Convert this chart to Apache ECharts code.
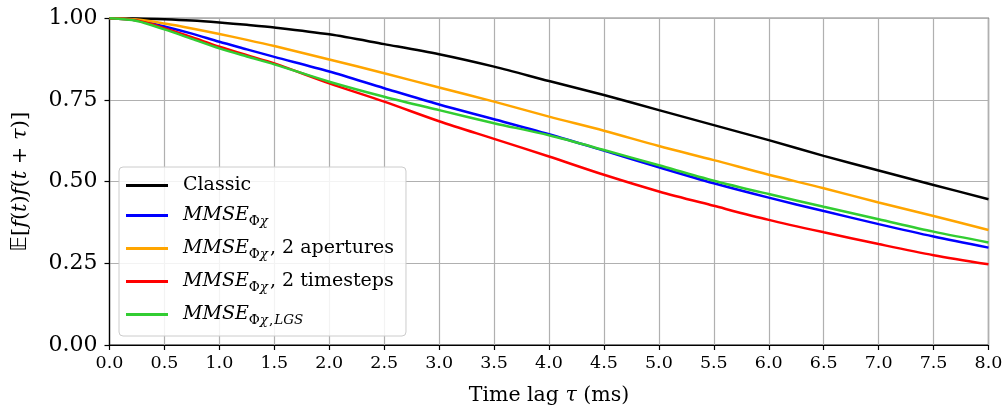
<!DOCTYPE html>
<html>
<head>
<meta charset="utf-8">
<script src="https://cdn.jsdelivr.net/npm/echarts@6/dist/echarts.min.js"></script>
<style>
html,body{margin:0;padding:0;background:#fff;}
#chart{width:1005px;height:408px;}
</style>
</head>
<body>
<div id="chart"></div>
<script>
var tau = [0, 0.25, 0.5, 0.75, 1.0, 1.25, 1.5, 2.0, 2.5, 3.0, 3.5, 4.0, 4.5, 5.0, 5.5, 6.0, 6.5, 7.0, 7.5, 8.0];
var classic   = [1.000, 0.9995, 0.997, 0.993, 0.987, 0.980, 0.972, 0.951, 0.921, 0.890, 0.852, 0.808, 0.765, 0.719, 0.673, 0.627, 0.579, 0.534, 0.490, 0.446];
var mmse      = [1.000, 0.994, 0.975, 0.953, 0.928, 0.905, 0.882, 0.837, 0.786, 0.736, 0.691, 0.645, 0.595, 0.544, 0.495, 0.451, 0.410, 0.370, 0.332, 0.298];
var apertures = [1.000, 0.996, 0.984, 0.969, 0.952, 0.934, 0.915, 0.874, 0.832, 0.788, 0.745, 0.699, 0.656, 0.609, 0.566, 0.521, 0.480, 0.436, 0.395, 0.352];
var timesteps = [1.000, 0.993, 0.970, 0.942, 0.913, 0.887, 0.862, 0.801, 0.745, 0.685, 0.631, 0.577, 0.521, 0.470, 0.426, 0.383, 0.345, 0.309, 0.275, 0.247];
var lgs       = [1.000, 0.992, 0.966, 0.937, 0.908, 0.883, 0.859, 0.806, 0.760, 0.719, 0.679, 0.642, 0.597, 0.550, 0.503, 0.462, 0.423, 0.385, 0.347, 0.314];
var seriesNames = ['Classic', 'MMSE', 'MMSE_ap', 'MMSE_ts', 'MMSE_lgs'];
var seriesColors = ['#000000', '#0000ff', '#ffa500', '#ff0000', '#32cd32'];
var seriesData = [classic, mmse, apertures, timesteps, lgs];
var legendLabels = {
  'Classic': '{c|Classic}',
  'MMSE': '{m|MMSE}{s|Φ}{si|χ}',
  'MMSE_ap': '{m|MMSE}{s|Φ}{si|χ}{k|,}{r|2 apertures}',
  'MMSE_ts': '{m|MMSE}{s|Φ}{si|χ}{k|,}{r|2 timesteps}',
  'MMSE_lgs': '{m|MMSE}{s|Φ}{si|χ}{sk|,}{si|LGS}'
};

var serif = '"DejaVu Serif", serif';
function pairs(ys) { return tau.map(function (x, i) { return [x, ys[i]]; }); }

var series = seriesNames.map(function (n, k) {
  return {
    name: n, type: 'line', data: pairs(seriesData[k]),
    smooth: 0.3, showSymbol: false, symbol: 'none',
    lineStyle: { color: seriesColors[k], width: 2.5 },
    itemStyle: { color: seriesColors[k] },
    z: 3 + k
  };
});

var chart = echarts.init(document.getElementById('chart'), null, { renderer: 'canvas' });
chart.setOption({
  animation: false,
  backgroundColor: '#fff',
  grid: { left: 109.5, right: 16.5, top: 18.3, bottom: 63, show: true, borderColor: '#000', borderWidth: 1.2, backgroundColor: 'transparent', containLabel: false, outerBoundsMode: 'none' },
  xAxis: {
    type: 'value', min: 0, max: 8, interval: 0.5,
    name: '{r|Time lag }{i|τ}{r| (ms)}', nameLocation: 'middle', nameGap: 40,
    nameTextStyle: { rich: {
      r: { fontFamily: serif, fontSize: 20.5, color: '#000' },
      i: { fontFamily: serif, fontStyle: 'italic', fontSize: 20.5, color: '#000' }
    } },
    axisLine: { show: true, lineStyle: { color: '#000', width: 1.2 } },
    axisTick: { show: true, inside: false, length: 5, lineStyle: { color: '#000', width: 1.2 } },
    axisLabel: { fontFamily: serif, fontSize: 17.5, color: '#000', margin: 9, formatter: function (v) { return v.toFixed(1); } },
    splitLine: { show: true, lineStyle: { color: '#b0b0b0', width: 1.2 } }
  },
  yAxis: {
    type: 'value', min: 0, max: 1, interval: 0.25,
    name: '{e|𝔼}{u|[}{i|f}{u|(}{i|t}{u|)}{i|f}{u|(}{i|t}{u| + }{i|τ}{u|)]}',
    nameLocation: 'middle', nameGap: 78, nameRotate: 90,
    nameTextStyle: { rich: {
      e: { fontFamily: '"DejaVu Sans", sans-serif', fontSize: 21, color: '#000' },
      u: { fontFamily: serif, fontSize: 21, color: '#000' },
      i: { fontFamily: serif, fontStyle: 'italic', fontSize: 21, color: '#000' }
    } },
    axisLine: { show: true, lineStyle: { color: '#000', width: 1.2 } },
    axisTick: { show: true, inside: false, length: 5, lineStyle: { color: '#000', width: 1.2 } },
    axisLabel: { fontFamily: serif, fontSize: 22, color: '#000', margin: 12, formatter: function (v) { return v.toFixed(2); } },
    splitLine: { show: true, lineStyle: { color: '#b0b0b0', width: 1.2 } }
  },
  legend: {
    orient: 'vertical', left: 119, top: 167,
    data: seriesNames,
    icon: 'rect', itemWidth: 42, itemHeight: 3, itemGap: 10.5,
    padding: [9, 12, 9, 7],
    backgroundColor: 'rgba(255,255,255,0.85)', borderColor: '#cccccc', borderWidth: 1, borderRadius: 4,
    formatter: function (n) { return legendLabels[n]; },
    textStyle: {
      padding: [0, 0, 0, 10],
      rich: {
        c: { fontFamily: serif, fontSize: 19, color: '#000', lineHeight: 15 },
        m: { fontFamily: serif, fontStyle: 'italic', fontSize: 19, color: '#000', lineHeight: 20, verticalAlign: 'top' },
        r: { fontFamily: serif, fontSize: 19, color: '#000', lineHeight: 20, verticalAlign: 'top', padding: [0, 0, 0, 6] },
        k: { fontFamily: serif, fontSize: 19, color: '#000', lineHeight: 20, verticalAlign: 'top', padding: [0, 0, 0, 2] },
        s: { fontFamily: serif, fontSize: 13.5, color: '#000', lineHeight: 13, padding: [8.5, 0, 0, 0], verticalAlign: 'top' },
        sk: { fontFamily: serif, fontSize: 13.5, color: '#000', lineHeight: 13, padding: [8.5, 1, 0, 1], verticalAlign: 'top' },
        si: { fontFamily: serif, fontStyle: 'italic', fontSize: 13.5, color: '#000', lineHeight: 13, padding: [8.5, 0, 0, 0], verticalAlign: 'top' }
      }
    }
  },
  series: series
});
</script>
</body>
</html>
